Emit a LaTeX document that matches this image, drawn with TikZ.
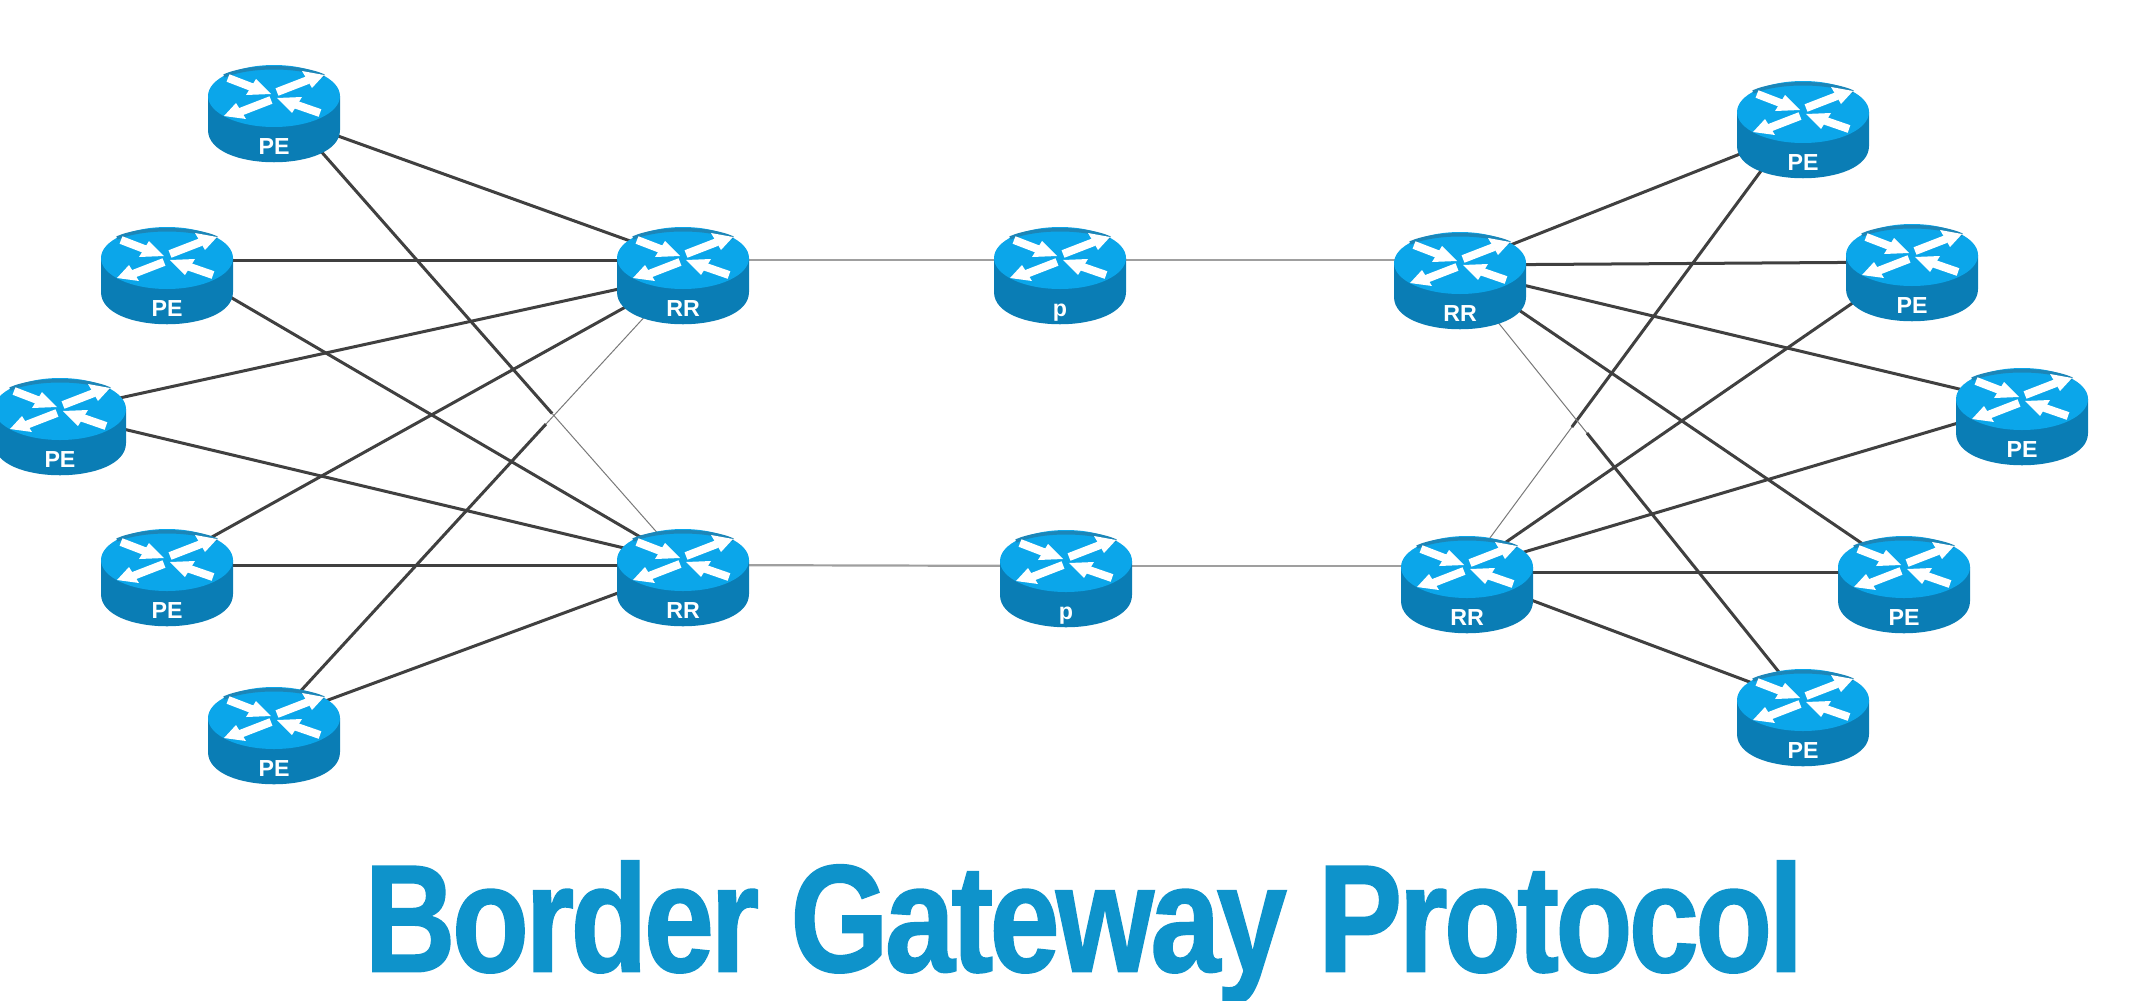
\documentclass[tikz,border=0pt]{standalone}
\usepackage{fontspec}
\setmainfont{Liberation Sans}
\newfontfamily\titlefont[FakeBold=1.2,LetterSpace=-3]{Liberation Sans Bold}
\usetikzlibrary{backgrounds,calc}
\definecolor{topblue}{HTML}{0BA6EA}
\definecolor{rimblue}{HTML}{1C86B8}
\definecolor{bodyblue}{HTML}{0A7DB5}
\definecolor{titleblue}{HTML}{0E93CB}
\definecolor{linkdark}{HTML}{404040}
\tikzset{
  px/.style={x=0.01cm,y=-0.01cm},
  routerbox/.style={rectangle,minimum width=1.33cm,minimum height=0.97cm,inner sep=0pt,
    text=white,font=\bfseries\fontsize{6.6}{7}\selectfont},
  router icon/.pic={
      \fill[bodyblue] (-66,-17) -- (-66,17) .. controls (-66,60) and (66,60) .. (66,17) -- (66,-17) -- cycle;
      \fill[topblue] (0,-17) ellipse[x radius=66,y radius=31];
      \draw[rimblue,line width=0.35mm] (-50,-37) .. controls (-25,-48) and (25,-48) .. (50,-37);
      \draw[white,line width=0.8mm] (3,-21) -- (34,-33);
      \fill[white] (50,-38) -- (28,-42) -- (38,-25) -- cycle;
      \draw[white,line width=0.8mm] (-46,-35) -- (-20,-25);
      \fill[white] (-3,-19) -- (-18,-34) -- (-28,-18) -- cycle;
      \draw[white,line width=0.8mm] (-3,-13) -- (-34,-1);
      \fill[white] (-50,3) -- (-38,-10) -- (-28,6) -- cycle;
      \draw[white,line width=0.8mm] (46,0) -- (20,-9);
      \fill[white] (3,-15) -- (18,0) -- (28,-16) -- cycle;
  },
  link/.style={draw=linkdark,line width=0.3mm},
  faint/.style={draw=linkdark!70,line width=0.1mm},
  core/.style={draw=gray!75,line width=0.22mm},
  titletext/.style={text=titleblue,font=\titlefont\fontsize{43.5}{50}\selectfont,inner sep=0pt,xscale=0.825}
}
\newcommand{\routerat}[4]{\path (#2,#3) pic {router icon};
  \node[routerbox] (#1) at (#2,#3) {\smash{\raisebox{-0.41cm}{#4}}};}
% link with vertical offsets of its two ends above the node centres (in px)
\newcommand{\lnk}[5][link]{\draw[#1] ([yshift=#3*0.01cm]#2.center) -- ([yshift=#5*0.01cm]#4.center);}
\newcommand{\fadelnk}[5]{%
  \coordinate (fa) at ([yshift=#2*0.01cm]#1.center);
  \coordinate (fb) at ([yshift=#4*0.01cm]#3.center);
  \draw[link] (fa) -- ($(fa)!#5!(fb)$);
  \draw[faint] ($(fa)!#5!(fb)$) -- (fb);}
\begin{document}
\begin{tikzpicture}[px]
\useasboundingbox (0,0) rectangle (2134,1000);
\routerat{la}{274}{113}{PE}
\routerat{lb}{167}{275}{PE}
\routerat{lc}{60}{426}{PE}
\routerat{ld}{167}{577}{PE}
\routerat{le}{274}{735}{PE}
\routerat{rrlt}{683}{275}{RR}
\routerat{rrlb}{683}{577}{RR}
\routerat{pt}{1060}{275}{p}
\routerat{pb}{1066}{578}{p}
\routerat{rrrt}{1460}{280}{RR}
\routerat{rrrb}{1467}{584}{RR}
\routerat{ra}{1803}{129}{PE}
\routerat{rb}{1912}{272}{PE}
\routerat{rc}{2022}{416}{PE}
\routerat{rd}{1904}{584}{PE}
\routerat{re}{1803}{717}{PE}
\node[titletext] (title) at (1084,932) {Border Gateway Protocol};
\begin{scope}[on background layer]
\lnk{la}{0}{rrlt}{15}
\fadelnk{la}{15}{rrlb}{15}{0.68}
\lnk{lb}{15}{rrlt}{15}
\lnk{lb}{15}{rrlb}{15}
\lnk{lc}{15}{rrlt}{0}
\lnk{lc}{12}{rrlb}{15}
\lnk{ld}{15}{rrlt}{0}
\lnk{ld}{12}{rrlb}{12}
\fadelnk{le}{15}{rrlt}{0}{0.665}
\lnk{le}{15}{rrlb}{8}
\lnk[core]{rrlt}{15}{pt}{15}
\lnk[core]{pt}{15}{rrrt}{20}
\lnk[core]{rrlb}{12}{pb}{12}
\lnk[core]{pb}{12}{rrrb}{18}
\lnk{ra}{0}{rrrt}{15}
\fadelnk{ra}{15}{rrrb}{15}{0.688}
\lnk{rb}{10}{rrrt}{15}
\lnk{rb}{10}{rrrb}{15}
\lnk{rc}{12}{rrrt}{10}
\lnk{rc}{12}{rrrb}{15}
\lnk{rd}{12}{rrrt}{10}
\lnk{rd}{12}{rrrb}{12}
\fadelnk{re}{15}{rrrt}{5}{0.63}
\lnk{re}{15}{rrrb}{8}
\end{scope}
\end{tikzpicture}
\end{document}
